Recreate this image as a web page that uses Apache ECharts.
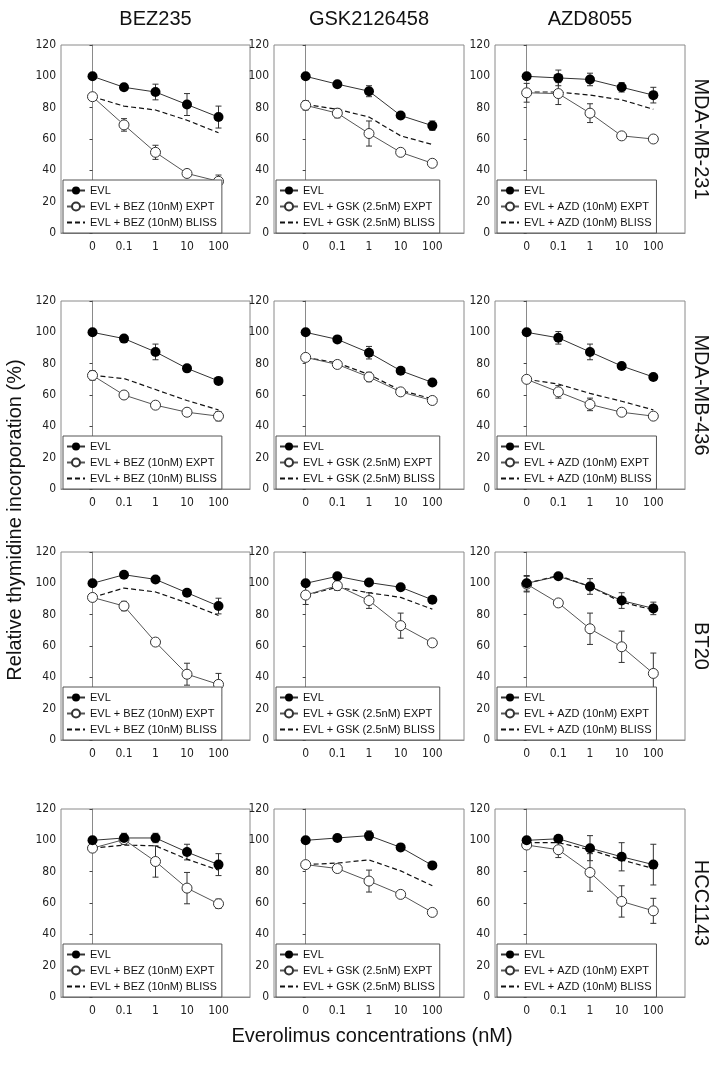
<!DOCTYPE html>
<html>
<head>
<meta charset="utf-8">
<script src="https://cdn.jsdelivr.net/npm/echarts@6/dist/echarts.min.js"></script>
<style>
  html, body { margin: 0; padding: 0; background: #fff; }
  #chart { width: 714px; height: 1065px; }
</style>
</head>
<body>
<div id="chart"></div>
<script>
const drugs = ["BEZ235", "GSK2126458", "AZD8055"];
const drugLegend = ["BEZ (10nM)", "GSK (2.5nM)", "AZD (10nM)"];
const cellLines = ["MDA-MB-231", "MDA-MB-436", "BT20", "HCC1143"];
const concLabels = ["0", "0.1", "1", "10", "100"];

// each inner list is one drug column: BEZ235, GSK2126458, AZD8055
// MDA-MB-231
const evl231 = [[100, 93, 90, 82, 74], [100, 95, 90.5, 75, 68.5], [100, 99, 98, 93, 88]];
const evlErr231 = [[1, 2, 5, 7, 7], [1, 1.5, 3.5, 2, 3], [1.5, 5, 4, 3, 5]];
const expt231 = [[87, 69, 51.5, 38, 33], [81.5, 76.5, 63.5, 51.5, 44.5], [89.5, 89, 76.5, 62, 60]];
const exptErr231 = [[1, 4, 4.5, 2, 4], [3, 3, 8, 1.5, 2], [6, 7, 6, 2, 1.5]];
const bliss231 = [[87, 81, 78.5, 72, 64], [82, 79, 74, 62, 56.5], [90, 90, 88, 85, 79]];
// MDA-MB-436
const evl436 = [[100, 96, 87.5, 77, 69], [100, 95.5, 87, 75.5, 68], [100, 96.5, 87.5, 78.5, 71.5]];
const evlErr436 = [[1, 1.5, 5, 1.5, 1.5], [1, 1.5, 4, 1.5, 1.5], [1.5, 4, 5, 1.5, 1.5]];
const expt436 = [[72.5, 60, 53.5, 49, 46.5], [84, 79.5, 71.5, 62, 56.5], [70, 62, 54, 49, 46.5]];
const exptErr436 = [[3, 1, 1.5, 1.5, 3], [1, 1.5, 3, 1.5, 1.5], [1, 4, 4, 1.5, 2]];
const bliss436 = [[72.5, 70.5, 63.5, 56.5, 50.5], [84, 80.5, 73, 63, 57.5], [70, 67, 61, 56, 50.5]];
// BT20
const evlBT20 = [[100, 105.5, 102.5, 94, 85.5], [100, 104.5, 100.5, 97.5, 89.5], [100, 104.5, 98, 89, 84]];
const evlErrBT20 = [[1.5, 1.5, 1.5, 1.5, 5], [1.5, 1.5, 1.5, 1.5, 1.5], [5, 1.5, 5, 5, 4]];
const exptBT20 = [[91, 85.5, 62.5, 42, 35.5], [92.5, 98.5, 89, 73, 62], [99.5, 87.5, 71, 59.5, 42.5]];
const exptErrBT20 = [[1.5, 3, 2, 7, 7], [6, 3, 5, 8, 2], [5, 1.5, 10, 10, 13]];
const blissBT20 = [[91, 97, 94.5, 87.5, 79.5], [92.5, 97.5, 94, 91, 83.5], [100, 105, 98, 88, 83]];
// HCC1143
const evl1143 = [[100, 101.5, 101.5, 92.5, 84.5], [100, 101.5, 103, 95.5, 84], [100, 101, 95, 89.5, 84.5]];
const evlErr1143 = [[2, 3, 3, 5, 7], [1.5, 1.5, 3, 1.5, 1.5], [2, 2, 8, 9, 13]];
const expt1143 = [[95, 100.5, 86.5, 69.5, 59.5], [84.5, 82, 74, 65.5, 54], [97, 94, 79.5, 61, 55]];
const exptErr1143 = [[1.5, 3, 10, 10, 3], [1, 1.5, 7, 1.5, 1.5], [1.5, 5, 12, 10, 8]];
const bliss1143 = [[95, 97, 96.5, 88, 81], [84.5, 85.5, 87.5, 80.5, 71], [98.5, 98.5, 94, 87.5, 82]];

const evlRows = [evl231, evl436, evlBT20, evl1143];
const evlErrRows = [evlErr231, evlErr436, evlErrBT20, evlErr1143];
const exptRows = [expt231, expt436, exptBT20, expt1143];
const exptErrRows = [exptErr231, exptErr436, exptErrBT20, exptErr1143];
const blissRows = [bliss231, bliss436, blissBT20, bliss1143];

// layout
const colLeft = [61, 274, 495];
const colWidth = [189, 190, 190];
const rowTop = [45, 301, 552, 809];
const rowHeight = 188;
const H = 1065;
const narrow = "'Liberation Sans Narrow', 'DejaVu Sans Condensed', 'Liberation Sans', sans-serif";
const plain = "'Liberation Sans', Arial, sans-serif";
const boxColor = "#8a8a8a";

const chart = echarts.init(document.getElementById("chart"));

const toPoints = (vals) => vals.map((v, i) => [i, v]);
const toBars = (vals, errs) => vals.map((v, i) => [i, v - errs[i], v + errs[i]]);

function renderErrorBar(params, api) {
  const x = api.value(0);
  const lo = api.coord([x, api.value(1)]);
  const hi = api.coord([x, api.value(2)]);
  const cap = 3;
  const st = { stroke: "#333", lineWidth: 1 };
  return {
    type: "group",
    children: [
      { type: "line", shape: { x1: lo[0], y1: lo[1], x2: hi[0], y2: hi[1] }, style: st },
      { type: "line", shape: { x1: lo[0] - cap, y1: lo[1], x2: lo[0] + cap, y2: lo[1] }, style: st },
      { type: "line", shape: { x1: hi[0] - cap, y1: hi[1], x2: hi[0] + cap, y2: hi[1] }, style: st }
    ]
  };
}

const grid = [], xAxis = [], yAxis = [], legend = [], series = [];

for (let r = 0; r < 4; r++) {
  for (let c = 0; c < 3; c++) {
    const i = r * 3 + c;
    const evlName = "EVL";
    const exptName = "EVL + " + drugLegend[c] + " EXPT";
    const blissName = "EVL + " + drugLegend[c] + " BLISS";

    grid.push({
      left: colLeft[c], top: rowTop[r], width: colWidth[c], height: rowHeight,
      show: true, borderColor: boxColor, borderWidth: 1
    });
    xAxis.push({
      type: "value", gridIndex: i, min: -1, max: 5, interval: 1,
      axisLine: { show: true, lineStyle: { color: boxColor } },
      axisTick: { show: false },
      splitLine: { show: false },
      axisLabel: {
        color: "#222", fontSize: 12, fontFamily: narrow, margin: 8,
        formatter: (v) => concLabels[v] ?? ""
      }
    });
    yAxis.push({
      type: "value", gridIndex: i, min: 0, max: 120, interval: 20,
      axisLine: { show: true, lineStyle: { color: boxColor } },
      axisTick: { show: true, length: 3, lineStyle: { color: "#444" } },
      splitLine: { show: false },
      axisLabel: { color: "#222", fontSize: 12, fontFamily: narrow, margin: 5 }
    });
    legend.push({
      data: [
        evlName,
        exptName,
        // dashed line only, no marker
        { name: blissName, itemStyle: { opacity: 0 } }
      ],
      orient: "vertical",
      left: colLeft[c] + 2,
      bottom: H - rowTop[r] - rowHeight,
      itemWidth: 18, itemHeight: 10, itemGap: 1,
      padding: [3, 5, 3, 3],
      borderColor: "#555", borderWidth: 1, backgroundColor: "#fff",
      selectedMode: false,
      textStyle: { fontSize: 11, fontFamily: plain, color: "#111", lineHeight: 15 }
    });

    series.push({
      type: "custom", xAxisIndex: i, yAxisIndex: i, z: 1, silent: true,
      renderItem: renderErrorBar, encode: { x: 0, y: [1, 2] },
      data: toBars(evlRows[r][c], evlErrRows[r][c])
    });
    series.push({
      type: "custom", xAxisIndex: i, yAxisIndex: i, z: 1, silent: true,
      renderItem: renderErrorBar, encode: { x: 0, y: [1, 2] },
      data: toBars(exptRows[r][c], exptErrRows[r][c])
    });
    series.push({
      name: blissName, type: "line", xAxisIndex: i, yAxisIndex: i, z: 2,
      symbol: "none", silent: true,
      lineStyle: { color: "#111", width: 1.2, type: [5, 3] },
      itemStyle: { color: "#111" },
      data: toPoints(blissRows[r][c])
    });
    series.push({
      name: exptName, type: "line", xAxisIndex: i, yAxisIndex: i, z: 3,
      symbol: "circle", symbolSize: 10, silent: true,
      lineStyle: { color: "#555", width: 1 },
      itemStyle: { color: "#fff", borderColor: "#333", borderWidth: 1 },
      data: toPoints(exptRows[r][c])
    });
    series.push({
      name: evlName, type: "line", xAxisIndex: i, yAxisIndex: i, z: 4,
      symbol: "circle", symbolSize: 10, silent: true,
      lineStyle: { color: "#333", width: 1 },
      itemStyle: { color: "#000" },
      data: toPoints(evlRows[r][c])
    });
  }
}

const graphic = [];
drugs.forEach((d, c) => {
  graphic.push({
    type: "text", x: colLeft[c] + colWidth[c] / 2, y: 19,
    style: { text: d, fontSize: 20, fontFamily: plain, fill: "#111", align: "center", verticalAlign: "middle" }
  });
});
cellLines.forEach((name, r) => {
  graphic.push({
    type: "text", x: 701, y: rowTop[r] + rowHeight / 2, rotation: -Math.PI / 2,
    style: { text: name, fontSize: 20, fontFamily: plain, fill: "#111", align: "center", verticalAlign: "middle" }
  });
});
graphic.push({
  type: "text", x: 15, y: 520, rotation: Math.PI / 2,
  style: { text: "Relative thymidine incorporation (%)", fontSize: 20, fontFamily: plain, fill: "#111", align: "center", verticalAlign: "middle" }
});
graphic.push({
  type: "text", x: 372, y: 1036,
  style: { text: "Everolimus concentrations (nM)", fontSize: 20, fontFamily: plain, fill: "#111", align: "center", verticalAlign: "middle" }
});

chart.setOption({
  animation: false,
  grid: grid,
  xAxis: xAxis,
  yAxis: yAxis,
  legend: legend,
  series: series,
  graphic: graphic
});
</script>
</body>
</html>
